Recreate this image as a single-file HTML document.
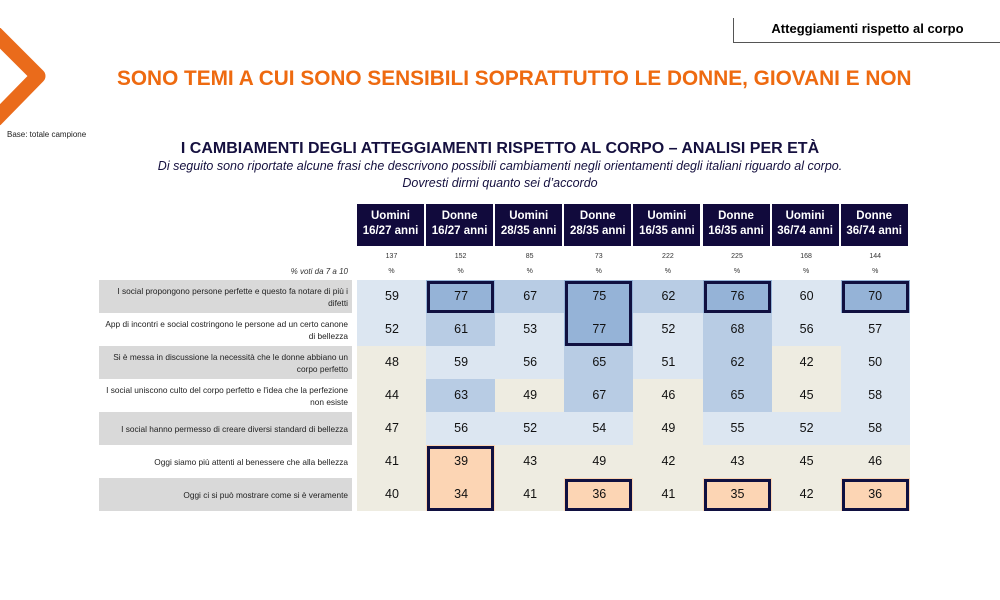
<!DOCTYPE html>
<html><head><meta charset="utf-8"><style>
body{margin:0;width:1000px;height:600px;background:#fff;position:relative;font-family:"Liberation Sans",sans-serif;overflow:hidden}
.a{position:absolute}
.h{background:#110a3c;color:#fff;font-weight:bold;font-size:11.5px;text-align:center;line-height:15px;padding-top:5px;box-sizing:border-box;height:42px;top:204px;border-right:2px solid #fff}
.c{height:33px;line-height:33px;text-align:center;font-size:12.5px;color:#111;width:69px}
.lab{left:99px;width:253px;height:33px;font-size:8.3px;color:#222;text-align:right;display:flex;align-items:center;justify-content:flex-end;line-height:12px;padding-right:4px;box-sizing:border-box}
.box{border:3px solid #101040;box-sizing:border-box}
.sm{font-size:7px;color:#333;text-align:center;width:69px}
</style></head><body>
<div class="a" style="left:733px;top:18px;width:267px;height:24px;border-left:1px solid #555;border-bottom:1px solid #555;text-align:center;font-size:13px;font-weight:bold;line-height:22px;color:#000">Atteggiamenti rispetto al corpo</div>
<svg class="a" style="left:0;top:28px" width="50" height="105"><polyline points="-5,5 38,48 -5,92" fill="none" stroke="#ea6b1b" stroke-width="15" stroke-linejoin="round"/></svg>
<div class="a" style="left:117px;top:67px;font-size:20.8px;font-weight:bold;color:#ee6a10;white-space:nowrap">SONO TEMI A CUI SONO SENSIBILI SOPRATTUTTO LE DONNE, GIOVANI E NON</div>
<div class="a" style="left:7px;top:130px;font-size:8px;color:#222">Base: totale campione</div>
<div class="a" style="left:0;width:1000px;top:140px;text-align:center;font-size:16px;font-weight:bold;color:#15103f">I CAMBIAMENTI DEGLI ATTEGGIAMENTI RISPETTO AL CORPO – ANALISI PER ETÀ</div>
<div class="a" style="left:0;width:1000px;top:158px;text-align:center;font-size:12.5px;font-style:italic;color:#15103f;line-height:17px">Di seguito sono riportate alcune frasi che descrivono possibili cambiamenti negli orientamenti degli italiani riguardo al corpo.<br>Dovresti dirmi quanto sei d’accordo</div>
<div id="t"></div>
<script>
var H=[["Uomini","16/27 anni"],["Donne","16/27 anni"],["Uomini","28/35 anni"],["Donne","28/35 anni"],["Uomini","16/35 anni"],["Donne","16/35 anni"],["Uomini","36/74 anni"],["Donne","36/74 anni"]];
var N=[137,152,85,73,222,225,168,144];
var L=["I social propongono persone perfette e questo fa notare di più i difetti","App di incontri e social costringono le persone ad un certo canone di bellezza","Si è messa in discussione la necessità che le donne abbiano un corpo perfetto","I social uniscono culto del corpo perfetto e l'idea che la perfezione non esiste","I social hanno permesso di creare diversi standard di bellezza","Oggi siamo più attenti al benessere che alla bellezza","Oggi ci si può mostrare come si è veramente"];
var V=[[59,77,67,75,62,76,60,70],[52,61,53,77,52,68,56,57],[48,59,56,65,51,62,42,50],[44,63,49,67,46,65,45,58],[47,56,52,54,49,55,52,58],[41,39,43,49,42,43,45,46],[40,34,41,36,41,35,42,36]];
var C=["LDMDMDLD","LMLDLMLL","BLLMLMBL","BMBMBMBL","BLLLBLLL","BPBBBBBB","BPBPBPBP"];
var col={L:"#dce6f1",M:"#b8cce4",D:"#95b3d7",B:"#eeece1",P:"#fcd5b4"};
var s="";var X=function(i){return 357+i*69.1};
for(var i=0;i<8;i++){s+='<div class="a h" style="left:'+X(i)+'px;width:69px">'+H[i][0]+'<br>'+H[i][1]+'</div>';
s+='<div class="a sm" style="left:'+X(i)+'px;top:253px">'+N[i]+'</div><div class="a sm" style="left:'+X(i)+'px;top:268px">%</div>';}
s+='<div class="a" style="left:99px;width:249px;top:267px;text-align:right;font-size:8px;font-style:italic;color:#333">% voti da 7 a 10</div>';
for(var r=0;r<7;r++){var y=280+r*33;
s+='<div class="a lab" style="top:'+y+'px;background:'+(r%2==0?'#d9d9d9':'#fff')+'">'+L[r]+'</div>';
for(var i=0;i<8;i++)s+='<div class="a c" style="left:'+X(i)+'px;top:'+y+'px;width:'+(i==7?69:70)+'px;background:'+col[C[r][i]]+'">'+V[r][i]+'</div>';}
var B=[[0,1,1],[0,3,2],[0,5,1],[0,7,1],[5,1,2],[6,3,1],[6,5,1],[6,7,1]];
B.forEach(function(b){s+='<div class="a box" style="left:'+(X(b[1])+1)+'px;top:'+(280+b[0]*33+1)+'px;width:67px;height:'+(b[2]*33-1)+'px"></div>'});
document.getElementById("t").innerHTML=s;
</script>
</body></html>
